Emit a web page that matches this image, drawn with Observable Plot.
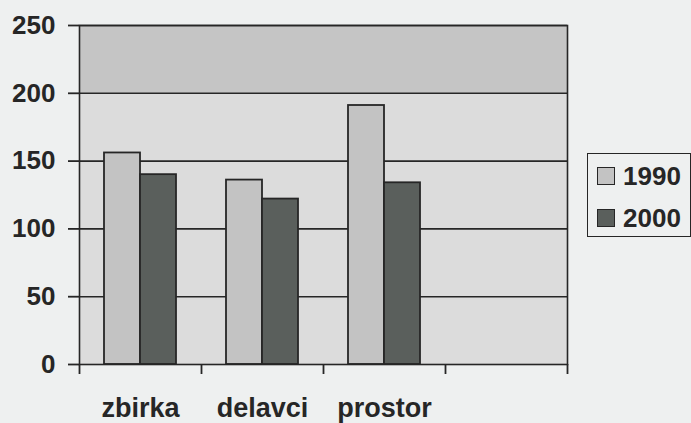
<!DOCTYPE html>
<html><head><meta charset="utf-8">
<script src="https://cdn.jsdelivr.net/npm/d3@7"></script>
<script src="https://cdn.jsdelivr.net/npm/@observablehq/plot@0.6"></script>
<style>
body{margin:0;background:#eef0f0;}
#wrap{position:relative;width:691px;height:423px;font-family:"Liberation Sans",Arial,sans-serif;}
#legend{position:absolute;left:587px;top:153px;width:104px;height:84px;border:1.6px solid #262626;box-sizing:border-box;}
.item{position:absolute;left:9px;height:22px;display:flex;align-items:center;font-weight:bold;font-size:26px;color:#262626;line-height:22px;}
.sw{width:18px;height:18px;border:1.5px solid #262626;box-sizing:border-box;margin-right:8px;}
</style></head><body><div id="wrap"></div>
<script>
const categories = ["zbirka", "delavci", "prostor", ""];
const series = ["1990", "2000"];
const values1990 = [156, 136, 191];
const values2000 = [140, 122, 134];
const yTicks = [0, 50, 100, 150, 200, 250];
const colors = ["#c3c3c3", "#5a5f5c"];

const W = 691, H = 423, mL = 79, mR = 124, mT = 25, mB = 59;
const bw = (W - mL - mR) / categories.length;
const pad = 25, barW = (bw - 2 * pad) / 2;
const ink = "#262626";

const rows = [];
values1990.forEach((v, i) => {
  rows.push({cat: categories[i], year: series[0], value: v});
  rows.push({cat: categories[i], year: series[1], value: values2000[i]});
});
const topBand = [{lo: yTicks[yTicks.length - 2], hi: yTicks[yTicks.length - 1]}];

const chart = Plot.plot({
  width: W, height: H,
  marginLeft: mL, marginRight: mR, marginTop: mT, marginBottom: mB,
  style: {background: "transparent", fontFamily: "'Liberation Sans', Arial, sans-serif", color: ink},
  x: {type: "band", domain: categories, padding: 0},
  y: {domain: [yTicks[0], yTicks[yTicks.length - 1]]},
  marks: [
    Plot.frame({fill: "#dcdcdc"}),
    Plot.rect(topBand, {y1: "lo", y2: "hi", fill: "#c5c5c5"}),
    Plot.ruleY(yTicks.slice(1), {stroke: ink, strokeWidth: 1.6}),
    Plot.barY(rows.filter(d => d.year === series[0]), {x: "cat", y: "value", fill: colors[0], stroke: ink, strokeWidth: 1.8, insetLeft: pad, insetRight: pad + barW}),
    Plot.barY(rows.filter(d => d.year === series[1]), {x: "cat", y: "value", fill: colors[1], stroke: ink, strokeWidth: 1.8, insetLeft: pad + barW, insetRight: pad}),
    Plot.frame({stroke: ink, strokeWidth: 1.6}),
    Plot.axisY({ticks: yTicks, tickSize: 11, tickPadding: 13, fontSize: 26, fontWeight: "bold", color: ink, strokeWidth: 1.8, label: null}),
    Plot.axisX({tickSize: 10, tickFormat: () => "", dx: -bw / 2, color: ink, strokeWidth: 1.8, label: null}),
    Plot.axisX([categories[categories.length - 1]], {tickSize: 10, tickFormat: () => "", dx: bw / 2, color: ink, strokeWidth: 1.8, label: null}),
    Plot.axisX({tickSize: 0, tickPadding: 33, fontSize: 27, fontWeight: "bold", color: ink, label: null})
  ]
});

const wrap = document.getElementById("wrap");
wrap.appendChild(chart);
const legend = document.createElement("div");
legend.id = "legend";
series.forEach((s, i) => {
  const it = document.createElement("div");
  it.className = "item";
  it.style.top = (i === 0 ? 11 : 53) + "px";
  const sw = document.createElement("span");
  sw.className = "sw";
  sw.style.background = colors[i];
  it.appendChild(sw);
  it.appendChild(document.createTextNode(s));
  legend.appendChild(it);
});
wrap.appendChild(legend);
</script>
</body></html>
